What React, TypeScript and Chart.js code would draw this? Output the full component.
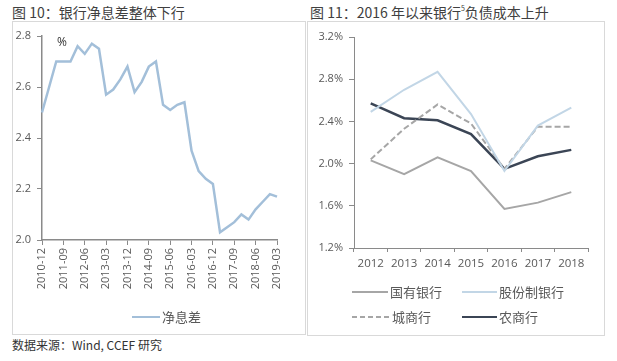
import React, { useEffect, useRef } from 'react';
import { Chart, registerables } from 'chart.js';

Chart.register(...registerables);

// ---------- data ----------
const quarters = [
  '2010-12', '2011-03', '2011-06', '2011-09', '2011-12', '2012-03', '2012-06', '2012-09', '2012-12',
  '2013-03', '2013-06', '2013-09', '2013-12', '2014-03', '2014-06', '2014-09', '2014-12',
  '2015-03', '2015-06', '2015-09', '2015-12', '2016-03', '2016-06', '2016-09', '2016-12',
  '2017-03', '2017-06', '2017-09', '2017-12', '2018-03', '2018-06', '2018-09', '2018-12', '2019-03',
];
const netInterestMargin = [
  2.50, 2.60, 2.70, 2.70, 2.70, 2.76, 2.73, 2.77, 2.75,
  2.57, 2.59, 2.63, 2.68, 2.58, 2.62, 2.68, 2.70,
  2.53, 2.51, 2.53, 2.54, 2.35, 2.27, 2.24, 2.22,
  2.03, 2.05, 2.07, 2.10, 2.08, 2.12, 2.15, 2.18, 2.17,
];

const years = ['2012', '2013', '2014', '2015', '2016', '2017', '2018'];
const stateOwnedBanks = [2.03, 1.90, 2.06, 1.93, 1.57, 1.63, 1.73];
const jointStockBanks = [2.49, 2.70, 2.87, 2.47, 1.93, 2.36, 2.53];
const cityCommercialBanks = [2.04, 2.33, 2.56, 2.38, 1.95, 2.35, 2.35];
const ruralCommercialBanks = [2.57, 2.43, 2.41, 2.28, 1.95, 2.07, 2.13];

const AXIS = '#8a8a8a';
const TICKTXT = '#595959';
const FONT = "'Open Sans', 'Noto Sans', sans-serif";
const CJK = "'Noto Sans CJK SC', sans-serif";

const C_NIM = '#a3bfd9';
const C_STATE = '#a6a6a6';
const C_JOINT = '#c2d6e6';
const C_CITY = '#a6a6a6';
const C_RURAL = '#3b4555';

function LeftChart() {
  const ref = useRef<HTMLCanvasElement | null>(null);
  useEffect(() => {
    if (!ref.current) return;
    const chart = new Chart(ref.current, {
      type: 'line',
      data: {
        labels: quarters,
        datasets: [
          {
            label: '净息差',
            data: netInterestMargin,
            borderColor: C_NIM,
            borderWidth: 2.5,
            pointRadius: 0,
            tension: 0,
            fill: false,
          },
        ],
      },
      options: {
        animation: false,
        responsive: false,
        maintainAspectRatio: false,
        layout: { padding: { top: 14, right: 29, left: 0, bottom: 0 } },
        plugins: { legend: { display: false }, tooltip: { enabled: false } },
        scales: {
          x: {
            type: 'category',
            offset: false,
            border: { display: true, color: AXIS, width: 1.5 },
            grid: {
              drawOnChartArea: false,
              drawTicks: true,
              tickLength: 5,
              color: (ctx: any) => (ctx.index % 3 === 0 ? AXIS : 'rgba(0,0,0,0)'),
            },
            ticks: {
              autoSkip: false,
              minRotation: 90,
              maxRotation: 90,
              padding: 3,
              color: TICKTXT,
              font: { family: FONT, size: 11 },
              callback: (_v: any, i: number) => (i % 3 === 0 ? quarters[i] : ''),
            },
            afterFit: (s: any) => {
              s.height = 62;
            },
          },
          y: {
            min: 2.0,
            max: 2.8,
            border: { display: true, color: AXIS, width: 1.5 },
            grid: { drawOnChartArea: false, drawTicks: true, tickLength: 5, color: AXIS },
            ticks: {
              stepSize: 0.2,
              padding: 6,
              color: TICKTXT,
              font: { family: FONT, size: 11 },
              callback: (v: any) => Number(v).toFixed(1),
            },
            afterFit: (s: any) => {
              s.width = 30;
            },
          },
        },
      },
    });
    return () => chart.destroy();
  }, []);
  return <canvas ref={ref} width={294} height={280} style={{ position: 'absolute', left: 12, top: 22 }} />;
}

function RightChart() {
  const ref = useRef<HTMLCanvasElement | null>(null);
  useEffect(() => {
    if (!ref.current) return;
    const chart = new Chart(ref.current, {
      type: 'line',
      data: {
        labels: years,
        datasets: [
          { label: '国有银行', data: stateOwnedBanks, borderColor: C_STATE, borderWidth: 2, pointRadius: 0, tension: 0 },
          { label: '股份制银行', data: jointStockBanks, borderColor: C_JOINT, borderWidth: 2, pointRadius: 0, tension: 0 },
          {
            label: '城商行',
            data: cityCommercialBanks,
            borderColor: C_CITY,
            borderWidth: 2,
            borderDash: [6, 3],
            pointRadius: 0,
            tension: 0,
          },
          { label: '农商行', data: ruralCommercialBanks, borderColor: C_RURAL, borderWidth: 2.5, pointRadius: 0, tension: 0 },
        ],
      },
      options: {
        animation: false,
        responsive: false,
        maintainAspectRatio: false,
        layout: { padding: { top: 15, right: 16, left: 0, bottom: 0 } },
        plugins: { legend: { display: false }, tooltip: { enabled: false } },
        scales: {
          x: {
            type: 'category',
            offset: true,
            border: { display: true, color: AXIS, width: 1 },
            grid: { offset: true, drawOnChartArea: false, drawTicks: true, tickLength: 4, color: AXIS },
            ticks: {
              padding: 5,
              color: TICKTXT,
              maxRotation: 0,
              font: { family: FONT, size: 11.5 },
            },
            afterFit: (s: any) => {
              s.height = 32;
            },
          },
          y: {
            min: 1.2,
            max: 3.2,
            border: { display: true, color: AXIS, width: 1 },
            grid: { drawOnChartArea: false, drawTicks: true, tickLength: 5, color: AXIS },
            ticks: {
              stepSize: 0.4,
              padding: 6,
              color: TICKTXT,
              font: { family: FONT, size: 11 },
              callback: (v: any) => Number(v).toFixed(1) + '%',
            },
            afterFit: (s: any) => {
              s.width = 47;
            },
          },
        },
      },
    });
    return () => chart.destroy();
  }, []);
  return <canvas ref={ref} width={297} height={258} style={{ position: 'absolute', left: 307, top: 22 }} />;
}

function LegendItem(props: { x: number; y: number; w: number; color: string; dashed?: boolean; thick?: number; text: string }) {
  const { x, y, w, color, dashed, thick = 2.5, text } = props;
  return (
    <>
      <div
        style={{
          position: 'absolute',
          left: x,
          top: y - thick / 2,
          width: w,
          height: thick,
          background: dashed
            ? `repeating-linear-gradient(to right, ${color} 0px, ${color} 5px, rgba(0,0,0,0) 5px, rgba(0,0,0,0) 8px)`
            : color,
        }}
      />
      <div
        style={{
          position: 'absolute',
          left: x + w + 2,
          top: y - 9,
          height: 18,
          lineHeight: '18px',
          fontFamily: CJK,
          fontSize: 13,
          color: TICKTXT,
          whiteSpace: 'nowrap',
        }}
      >
        {text}
      </div>
    </>
  );
}

export default function App() {
  return (
    <div
      style={{
        position: 'absolute',
        left: 0,
        top: 0,
        width: 617,
        height: 361,
        background: '#fff',
        overflow: 'hidden',
        fontFamily: CJK,
      }}
    >
      <div style={{ position: 'absolute', left: 12, top: 3, fontSize: 14, lineHeight: '18px', color: '#404040', whiteSpace: 'nowrap' }}>
        图 10：银行净息差整体下行
      </div>
      <div style={{ position: 'absolute', left: 310, top: 3, fontSize: 14, lineHeight: '18px', color: '#404040', whiteSpace: 'nowrap' }}>
        图 11：2016 年以来银行<sup style={{ fontSize: 7, verticalAlign: 'top', lineHeight: '10px' }}>5</sup>负债成本上升
      </div>

      <div style={{ position: 'absolute', left: 12, top: 21, width: 294, height: 314, border: '1px solid #d9d9d9', boxSizing: 'border-box' }} />
      <div style={{ position: 'absolute', left: 307, top: 21, width: 298, height: 315, border: '1px solid #d9d9d9', boxSizing: 'border-box' }} />

      <LeftChart />
      <RightChart />

      <div style={{ position: 'absolute', left: 57, top: 34, fontFamily: FONT, fontSize: 12, color: '#333', lineHeight: '16px' }}>%</div>

      <LegendItem x={132} y={317} w={28} color={C_NIM} thick={2.5} text="净息差" />

      <LegendItem x={352} y={292} w={36} color={C_STATE} thick={2} text="国有银行" />
      <LegendItem x={462} y={292} w={35} color={C_JOINT} thick={2} text="股份制银行" />
      <LegendItem x={352} y={317} w={38} color={C_CITY} thick={2} dashed text="城商行" />
      <LegendItem x={462} y={317} w={35} color={C_RURAL} thick={2.5} text="农商行" />

      <div style={{ position: 'absolute', left: 12, top: 337, fontSize: 12, lineHeight: '16px', color: '#333', whiteSpace: 'nowrap' }}>
        数据来源：Wind, CCEF 研究
      </div>
    </div>
  );
}
